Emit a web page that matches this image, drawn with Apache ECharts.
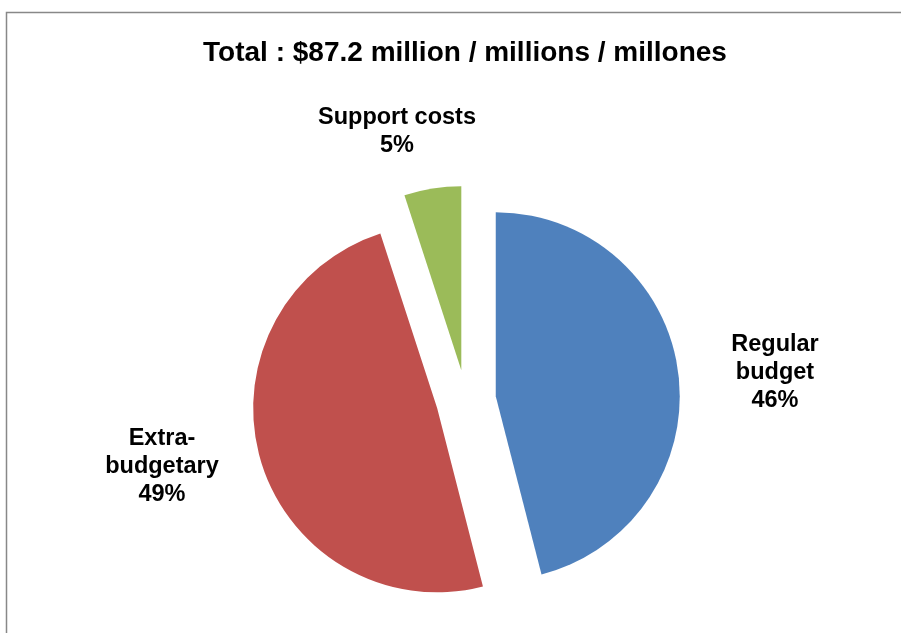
<!DOCTYPE html>
<html><head><meta charset="utf-8">
<script src="https://cdn.jsdelivr.net/npm/echarts@6/dist/echarts.min.js"></script>
<style>html,body{margin:0;padding:0;background:#fff}#c{width:901px;height:633px}</style>
</head><body><div id="c"></div>
<script>
const titleText = 'Total : $87.2 million / millions / millones';
const categories = ['Regular\nbudget', 'Extra-\nbudgetary', 'Support costs'];
const values = [46, 49, 5];
const colors = ['#4F81BD', '#C0504D', '#9BBB59'];
const labelPos = [[775, 373], [162, 467], [397, 132]];

const labelTexts = categories.map((n, i) => ({
  type: 'text', x: labelPos[i][0], y: labelPos[i][1],
  style: {text: n + '\n' + values[i] + '%', fontFamily: 'Liberation Sans, Arial', fontWeight: 'bold', fontSize: 23.5, lineHeight: 28, fill: '#000', align: 'center', verticalAlign: 'middle'}
}));

const chart = echarts.init(document.getElementById('c'));
chart.setOption({
  animation: false,
  graphic: [{type: 'rect', shape: {x: 6.5, y: 12.5, width: 1000, height: 1000}, style: {fill: 'none', stroke: '#888', lineWidth: 1.5}}].concat(labelTexts),
  title: {text: titleText, left: 460, textAlign: 'center', top: 34, textStyle: {fontFamily: 'Liberation Sans, Arial', fontWeight: 'bold', fontSize: 28, color: '#000'}},
  series: [{
    type: 'pie',
    center: [466, 400],
    radius: 184,
    startAngle: 90,
    clockwise: true,
    selectedMode: 'multiple',
    selectedOffset: 30,
    data: categories.map((n, i) => ({name: n, value: values[i], selected: true, itemStyle: {color: colors[i]}})),
    label: {show: false},
    labelLine: {show: false},
    emphasis: {disabled: true}
  }]
});
</script></body></html>
